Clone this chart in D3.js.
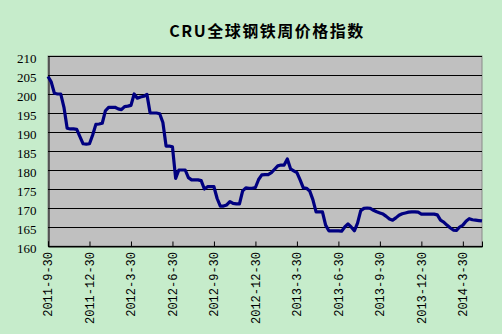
<!DOCTYPE html>
<html>
<head>
<meta charset="utf-8">
<script src="https://cdn.jsdelivr.net/npm/d3@7"></script>
<style>
  html, body { margin: 0; padding: 0; background: #c6eccb; }
  #chart { width: 502px; height: 334px; }
  #chart svg { display: block; }
</style>
</head>
<body>
<div id="chart"></div>
<script>
// weekly index values
const values = [
    204.6, 203.2, 200.2, 200.0, 200.0, 196.5, 191.0, 190.8, 190.8, 190.7,
    188.8, 186.9, 186.8, 186.9, 189.2, 192.0, 192.1, 192.3, 195.6, 196.5,
    196.5, 196.5, 196.1, 195.9, 196.7, 196.8, 197.0, 200.0, 198.9, 199.2,
    199.4, 199.9, 195.0, 195.0, 195.0, 194.8, 192.5, 186.3, 186.3, 186.1,
    177.8, 180.0, 180.0, 180.0, 178.0, 177.4, 177.4, 177.4, 177.2, 175.0,
    175.6, 175.6, 175.6, 172.5, 170.5, 170.5, 170.8, 171.7, 171.2, 171.1,
    171.1, 174.5, 175.3, 175.2, 175.2, 175.4, 177.5, 178.7, 178.8, 178.8,
    179.3, 180.2, 181.1, 181.3, 181.3, 182.9, 180.3, 179.8, 179.3, 177.4,
    175.3, 175.2, 174.5, 172.2, 169.0, 169.0, 169.0, 165.5, 164.0, 164.0,
    164.0, 164.0, 163.9, 165.0, 165.8, 165.0, 164.0, 166.0, 169.3, 169.9,
    170.0, 169.9, 169.4, 169.0, 168.7, 168.4, 167.8, 167.1, 166.8, 167.4,
    168.1, 168.5, 168.7, 168.9, 169.0, 169.0, 168.9, 168.4, 168.4, 168.4,
    168.4, 168.4, 168.2, 166.8, 166.3, 165.5, 164.8, 164.2, 164.1, 165.0,
    165.5, 166.5, 167.2, 166.9, 166.8, 166.7, 166.6
];

// one label every 13 weeks
const tickLabels = [
    "2011-9-30", "2011-12-30", "2012-3-30", "2012-6-30", "2012-9-30",
    "2012-12-30", "2013-3-30", "2013-6-30", "2013-9-30", "2013-12-30",
    "2014-3-30"
];
const tickStep = 13;

const yTicks = [160, 165, 170, 175, 180, 185, 190, 195, 200, 205, 210];

const title = "CRU全球钢铁周价格指数";

// ==========================
// SVG Setup
// ==========================

const width = 502;
const height = 334;

const margin = { top: 56, right: 20, bottom: 88, left: 48 };

const innerWidth = width - margin.left - margin.right;
const innerHeight = height - margin.top - margin.bottom;

const svg = d3.select("#chart").append("svg")
    .attr("width", width)
    .attr("height", height);

svg.append("rect")
    .attr("width", width)
    .attr("height", height)
    .attr("fill", "#c6eccb");

const chart = svg.append("g")
    .attr("transform", `translate(${margin.left},${margin.top})`);

// ==========================
// Scales
// ==========================

const xScale = d3.scaleLinear()
    .domain([0, values.length - 1])
    .range([0, innerWidth]);

const yScale = d3.scaleLinear()
    .domain([160, 210])
    .range([innerHeight, 0]);

// plot area
chart.append("rect")
    .attr("width", innerWidth)
    .attr("height", innerHeight)
    .attr("fill", "#c0c0c0")
    .attr("stroke", "#8a8a8a")
    .attr("stroke-width", 1);

// gridlines
chart.selectAll(".grid")
    .data(yTicks)
    .enter()
    .append("line")
    .attr("class", "grid")
    .attr("x1", 0)
    .attr("x2", innerWidth)
    .attr("y1", d => Math.round(yScale(d)) + 0.5)
    .attr("y2", d => Math.round(yScale(d)) + 0.5)
    .attr("stroke", "#000")
    .attr("stroke-width", 1);

// ==========================
// Axes
// ==========================

const xTickValues = tickLabels.map((d, i) => i * tickStep);

const xAxis = d3.axisBottom(xScale)
    .tickValues(xTickValues)
    .tickFormat("")
    .tickSize(-5);

const xg = chart.append("g")
    .attr("transform", `translate(0,${innerHeight + 0.5})`)
    .call(xAxis);

xg.select(".domain").attr("stroke", "#000");
xg.selectAll(".tick line").attr("stroke", "#000");

// rotated date labels
chart.selectAll(".x-label")
    .data(tickLabels)
    .enter()
    .append("g")
    .attr("class", "x-label")
    .attr("transform", (d, i) =>
        `translate(${xScale(xTickValues[i])},${innerHeight + 6}) rotate(-90)`)
    .append("text")
    .attr("dy", "0.35em")
    .attr("text-anchor", "end")
    .style("font-family", "'Liberation Mono', 'DejaVu Sans Mono', monospace")
    .style("font-size", "12px")
    .style("fill", "#000")
    .text(d => d);

const yAxis = d3.axisLeft(yScale)
    .tickValues(yTicks)
    .tickSize(0)
    .tickPadding(12);

const yg = chart.append("g")
    .attr("transform", "translate(0.5,0)")
    .call(yAxis);

yg.select(".domain").attr("stroke", "#000");
yg.selectAll(".tick text")
    .attr("dy", "0.5em")
    .style("font-family", "'Liberation Serif', serif")
    .style("font-size", "13px")
    .style("fill", "#000");

// ==========================
// Line
// ==========================

const line = d3.line()
    .x((d, i) => xScale(i))
    .y(d => yScale(d));

chart.append("path")
    .datum(values)
    .attr("d", line)
    .attr("fill", "none")
    .attr("stroke", "#000080")
    .attr("stroke-width", 3.2)
    .attr("stroke-linejoin", "round");

// ==========================
// Title
// ==========================

svg.append("text")
    .attr("x", 267)
    .attr("y", 37)
    .attr("text-anchor", "middle")
    .style("font-family", "'Noto Sans CJK SC', sans-serif")
    .style("font-size", "16px")
    .style("letter-spacing", "1.5px")
    .style("font-weight", "bold")
    .style("fill", "#000")
    .text(title);
</script>
</body>
</html>
